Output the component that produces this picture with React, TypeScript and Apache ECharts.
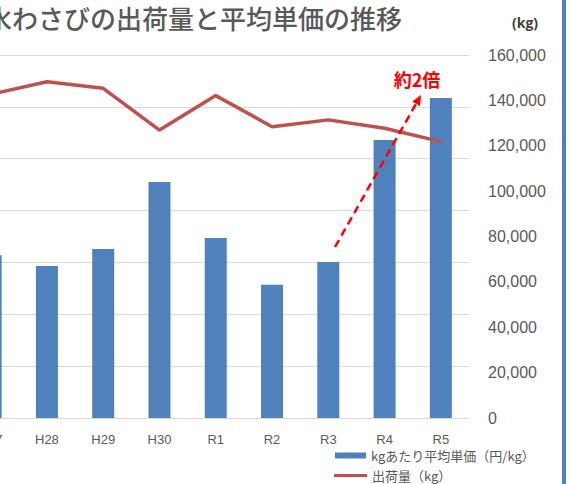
import React, { useEffect, useRef } from "react";
import * as echarts from "echarts";

const categories = ["H27", "H28", "H29", "H30", "R1", "R2", "R3", "R4", "R5"];
// 平均単価 (円/kg) — left axis (cut off in the reference)
const priceValues = [3140, 2930, 3260, 4550, 3470, 2570, 3010, 5360, 6170];
// 出荷量 (kg) — right axis
const shipmentValues = [142700, 148200, 145300, 126900, 142100, 128400, 131400, 127700, 121800];
const rightTicks = { min: 0, max: 160000, interval: 20000 };
const leftTicks = { min: 0, max: 7000, interval: 1000 };

const titleText = "水わさびの出荷量と平均単価の推移";
const unitText = "(kg)";
const barName = "kgあたり平均単価（円/kg）";
const lineName = "出荷量（kg）";
const annotationText = "約2倍";

const CJK = '"Noto Sans CJK JP", "Noto Sans", sans-serif';
const LAT = '"Liberation Sans", "DejaVu Sans", sans-serif';

export default function App() {
  const ref = useRef<HTMLDivElement>(null);

  useEffect(() => {
    if (!ref.current) return;
    const chart = echarts.init(ref.current, undefined, { renderer: "svg" });

    // arrow geometry (annotation)
    const tip = [421, 95];
    const start = [335, 247];
    const dx = tip[0] - start[0];
    const dy = tip[1] - start[1];
    const len = Math.sqrt(dx * dx + dy * dy);
    const ux = dx / len;
    const uy = dy / len;
    const headLen = 10;
    const headHalf = 4.5;
    const bx = tip[0] - ux * headLen;
    const by = tip[1] - uy * headLen;
    const px = -uy;
    const py = ux;

    chart.setOption({
      animation: false,
      backgroundColor: "#ffffff",
      title: {
        text: titleText,
        left: -14,
        top: 4,
        padding: 0,
        textStyle: {
          fontFamily: CJK,
          fontSize: 26,
          fontWeight: 500,
          color: "#595959",
        },
      },
      grid: {
        left: -37.5,
        right: 101,
        top: 55,
        bottom: 66,
        outerBoundsMode: "none",
        containLabel: false,
      },
      legend: [
        {
          data: [{ name: barName, icon: "rect" }],
          left: 335,
          top: 449,
          itemWidth: 31,
          itemHeight: 6,
          padding: 0,
          textStyle: { fontFamily: CJK, fontSize: 13, color: "#595959" },
        },
        {
          data: [{ name: lineName, icon: "rect" }],
          left: 334,
          top: 469,
          itemWidth: 33,
          itemHeight: 3,
          padding: 0,
          textStyle: { fontFamily: CJK, fontSize: 13, color: "#595959" },
        },
      ],
      xAxis: {
        type: "category",
        data: categories,
        axisLine: { show: true, lineStyle: { color: "#D9D9D9", width: 1 } },
        axisTick: { show: false },
        axisLabel: {
          fontFamily: LAT,
          fontSize: 13,
          color: "#595959",
          margin: 15,
        },
      },
      yAxis: [
        {
          type: "value",
          position: "left",
          min: leftTicks.min,
          max: leftTicks.max,
          interval: leftTicks.interval,
          axisLabel: { show: false },
          axisLine: { show: false },
          axisTick: { show: false },
          splitLine: { show: true, lineStyle: { color: "#D9D9D9", width: 1 } },
        },
        {
          type: "value",
          position: "right",
          min: rightTicks.min,
          max: rightTicks.max,
          interval: rightTicks.interval,
          axisLine: { show: false },
          axisTick: { show: false },
          splitLine: { show: false },
          axisLabel: {
            fontFamily: LAT,
            fontSize: 16,
            color: "#595959",
            margin: 19,
            formatter: (v: number) => v.toLocaleString("en-US"),
          },
        },
      ],
      series: [
        {
          name: barName,
          type: "bar",
          yAxisIndex: 0,
          data: priceValues,
          barWidth: 22,
          itemStyle: { color: "#4F81BD" },
        },
        {
          name: lineName,
          type: "line",
          yAxisIndex: 1,
          data: shipmentValues,
          showSymbol: false,
          symbol: "none",
          lineStyle: { color: "#C0504D", width: 3.5 },
          itemStyle: { color: "#C0504D" },
          z: 5,
        },
      ],
      graphic: [
        {
          type: "text",
          x: 525,
          y: 22,
          style: {
            text: unitText,
            fill: "#404040",
            font: 'bold 14px "Open Sans", sans-serif',
            align: "center",
            verticalAlign: "middle",
          },
        },
        {
          type: "line",
          shape: { x1: start[0], y1: start[1], x2: bx, y2: by },
          style: { stroke: "#FF0000", lineWidth: 2.5, lineDash: [8, 5] },
          z: 100,
        },
        {
          type: "polygon",
          shape: {
            points: [
              [tip[0], tip[1]],
              [bx + px * headHalf, by + py * headHalf],
              [bx - px * headHalf, by - py * headHalf],
            ],
          },
          style: { fill: "#FF0000" },
          z: 100,
        },
        {
          type: "text",
          x: 417,
          y: 79,
          style: {
            text: annotationText,
            fill: "#FF0000",
            font: `bold 18px ${CJK}`,
            align: "center",
            verticalAlign: "middle",
          },
          z: 100,
        },
        {
          type: "rect",
          shape: { x: 562, y: 0, width: 4, height: 484 },
          style: { fill: "#4E7FC4" },
          z: 100,
        },
      ],
    });

    return () => chart.dispose();
  }, []);

  return (
    <div
      ref={ref}
      style={{ position: "fixed", left: 0, top: 0, width: 570, height: 484 }}
    />
  );
}
